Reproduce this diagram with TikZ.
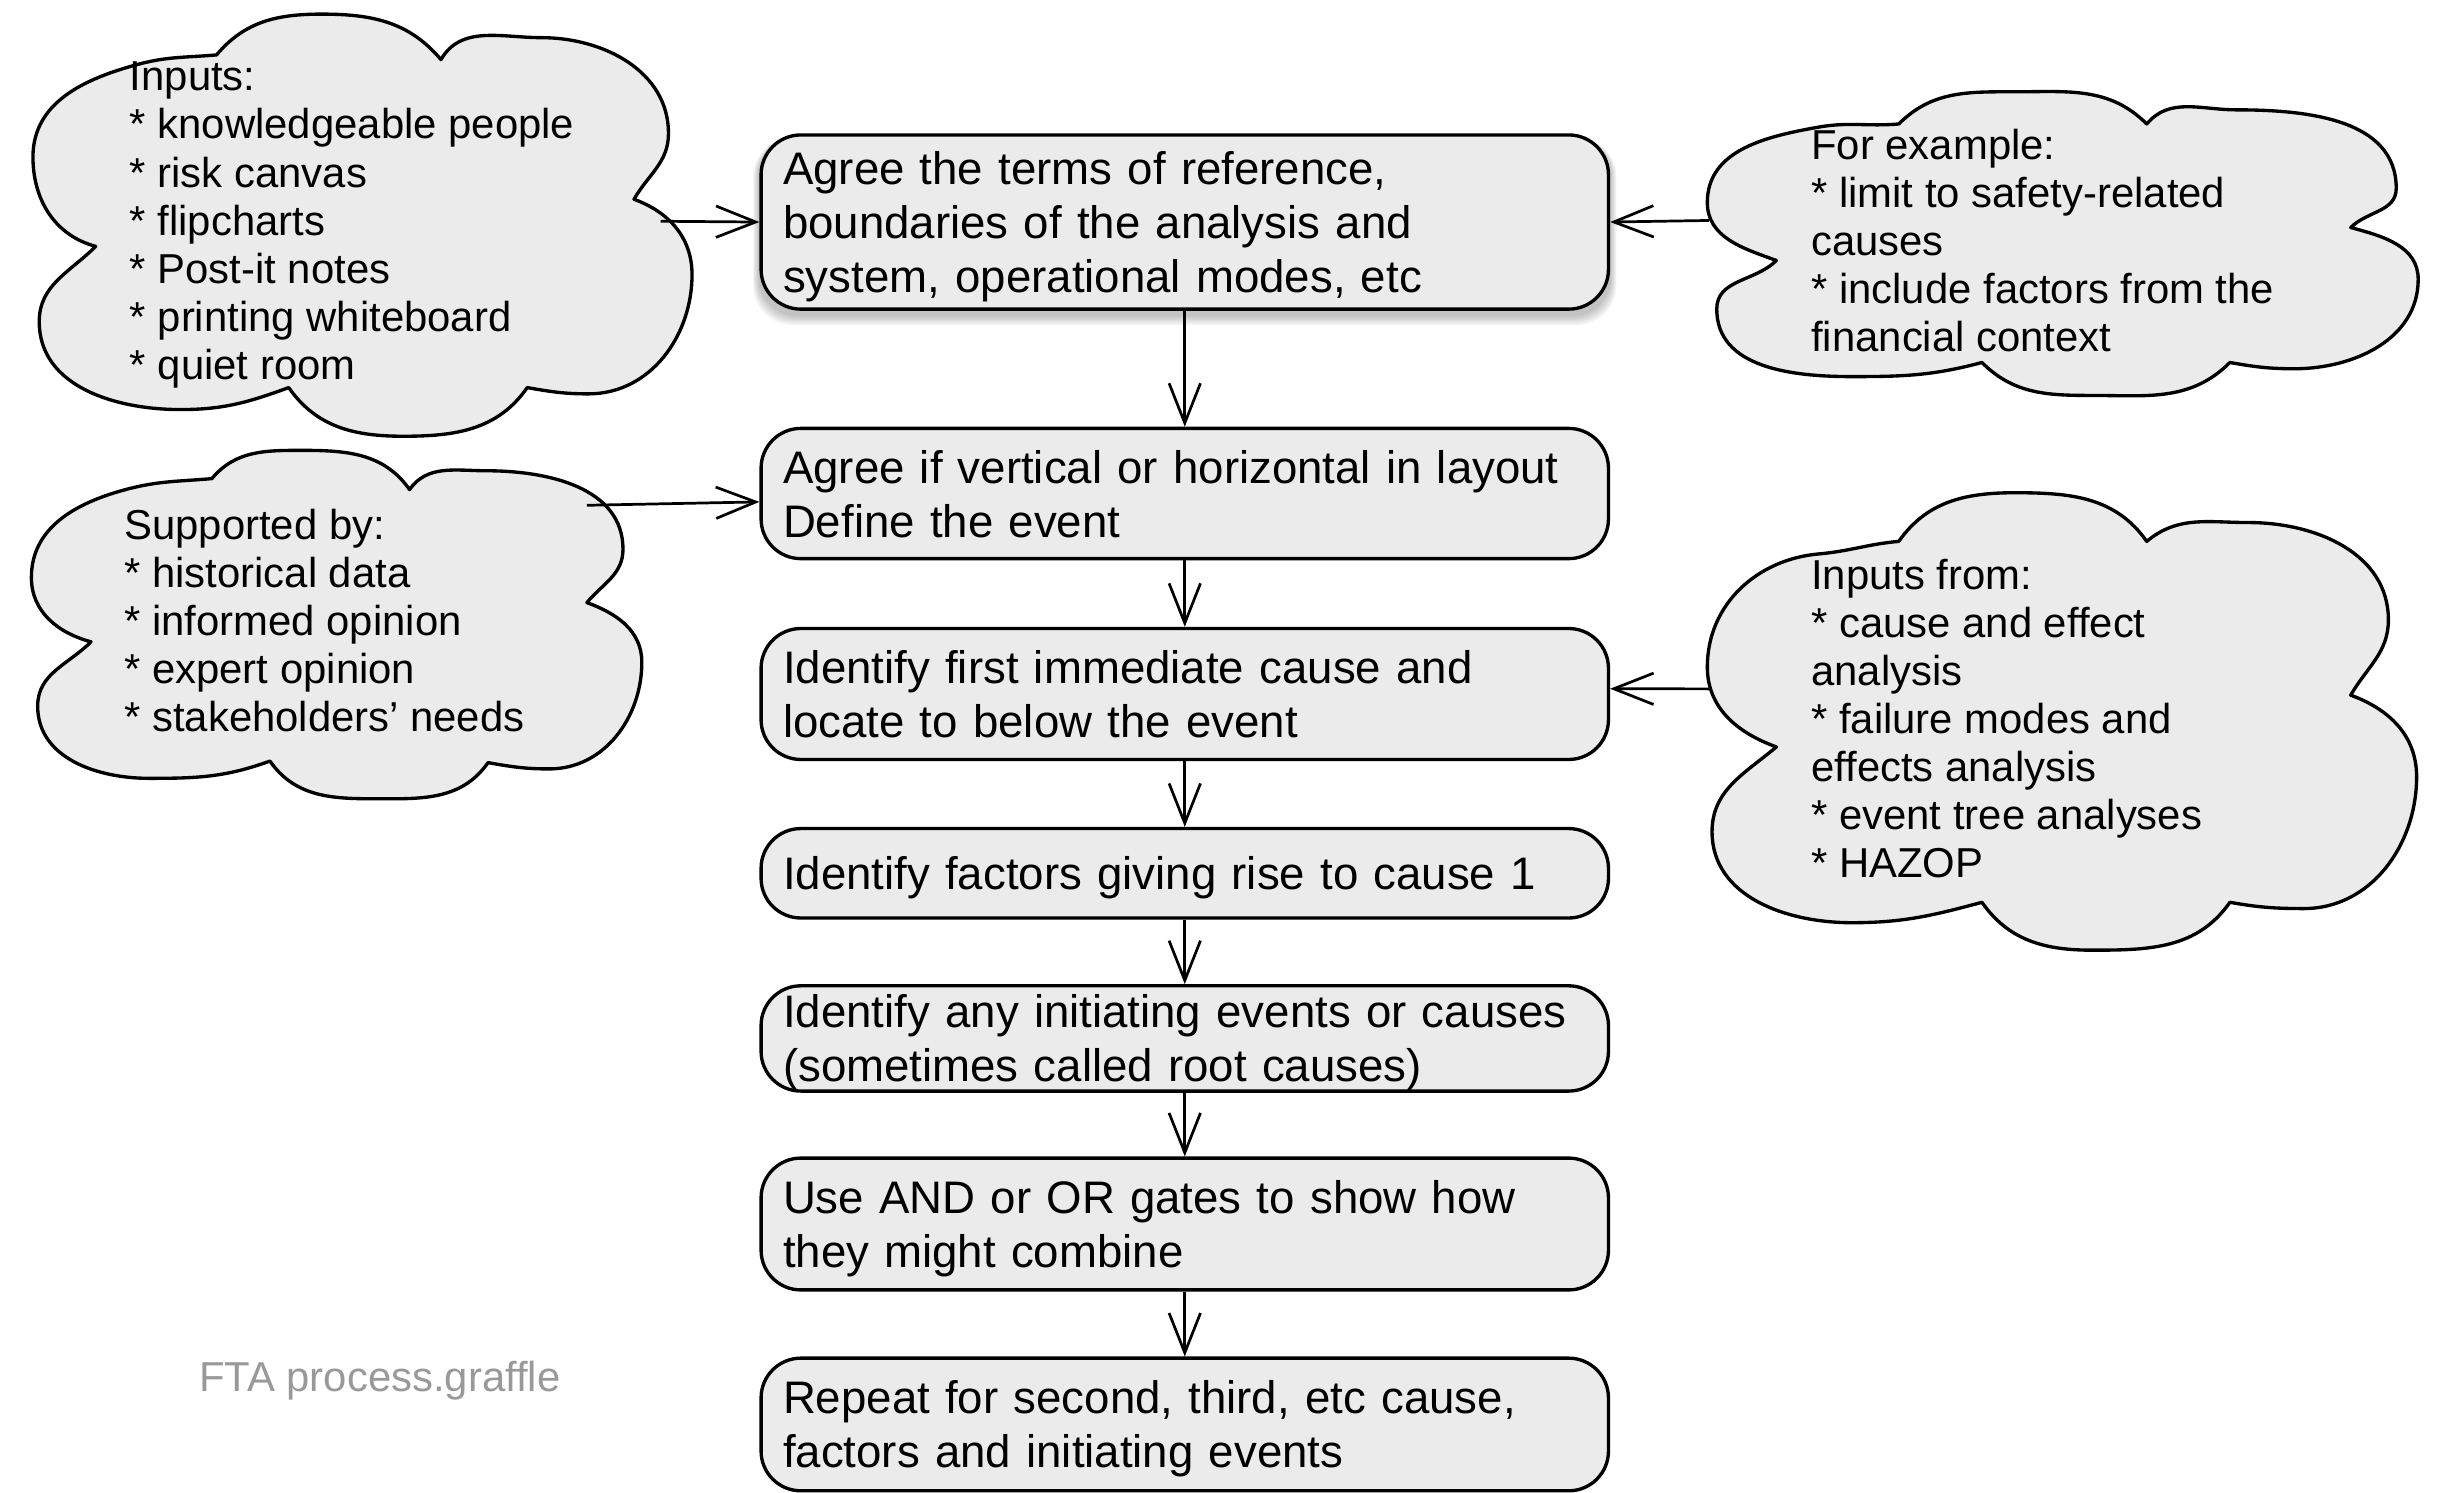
\documentclass[tikz,border=0pt]{standalone}
\usepackage{fontspec}
\setmainfont{Liberation Sans}
\usetikzlibrary{arrows.meta,backgrounds}
\definecolor{boxfill}{RGB}{235,235,235}
\definecolor{notegray}{RGB}{153,153,153}
\newcommand\boxstrut{\rule[-4pt]{0pt}{24pt}}
\newcommand\cloudstrut{\rule[-4pt]{0pt}{20pt}}
\begin{document}
\begin{tikzpicture}[x=0.75pt,y=0.75pt,
  stepbox/.style={draw, line width=1.6pt, fill=boxfill, rounded corners=19pt,
    minimum width=405pt, text width=384pt, inner xsep=10.5pt, inner ysep=0pt,
    align=left, font=\fontsize{21.8pt}{25.8pt}\selectfont,
    execute at begin node=\boxstrut, execute at end node=\boxstrut},
  cloudshape/.style={draw, line width=1.6pt, fill=boxfill, line join=round},
  cloudtext/.style={anchor=north west, inner sep=0pt, align=left,
    font=\fontsize{20pt}{23pt}\selectfont, execute at begin node=\cloudstrut},
  arr/.style={line width=1.3pt, -{Straight Barb[length=19pt,width=15pt]}}]

\useasboundingbox (0,0) rectangle (1560,-951.4);

% cloud 1 (top left)
\path[cloudshape] (61,-157)
  to[out=165, in=270] (21,-100) to[out=90, in=195] (88,-41) to[out=15, in=185] (138,-35)
  to[out=50, in=180] (205,-9) to[out=0, in=130] (281,-38)
  to[out=60, in=180] (345,-24) to[out=0, in=90] (426,-85) to[out=270, in=60] (404,-127)
  to[out=-20, in=90] (441,-175) to[out=270, in=0] (375,-251) to[out=180, in=-10] (336,-247)
  to[out=235, in=0] (257,-278) to[out=180, in=-55] (184,-247)
  to[out=200, in=0] (115,-261) to[out=180, in=270] (25,-205) to[out=90, in=225] (61,-157)
  -- cycle;

% cloud 2 (left middle)
\path[cloudshape] (58,-409)
  to[out=165, in=270] (20,-368) to[out=90, in=195] (80,-312) to[out=15, in=185] (135,-305)
  to[out=50, in=180] (193,-287) to[out=0, in=125] (261,-312)
  to[out=55, in=180] (310,-300) to[out=0, in=90] (397,-350) to[out=270, in=50] (374,-384)
  to[out=-20, in=90] (409,-422) to[out=270, in=0] (350,-490) to[out=180, in=-10] (311,-486)
  to[out=235, in=0] (236,-509) to[out=180, in=-55] (172,-485)
  to[out=200, in=0] (95,-496) to[out=180, in=270] (24,-450) to[out=90, in=225] (58,-409)
  -- cycle;

% cloud 3 (top right)
\path[cloudshape] (1132,-166)
  to[out=160, in=270] (1088,-129) to[out=90, in=190] (1159,-81) to[out=10, in=185] (1210,-79)
  to[out=45, in=180] (1284,-58.5) to[out=0, in=135] (1368,-79)
  to[out=50, in=180] (1425,-70) to[out=0, in=90] (1527,-120) to[out=270, in=45] (1498,-145)
  to[out=-15, in=90] (1541,-178) to[out=270, in=0] (1462,-235) to[out=180, in=-10] (1421,-231)
  to[out=225, in=0] (1333,-252) to[out=180, in=-45] (1263,-231)
  to[out=195, in=0] (1180,-240) to[out=180, in=270] (1094,-197) to[out=90, in=225] (1132,-166)
  -- cycle;

% cloud 4 (right middle)
\path[cloudshape] (1132,-476)
  to[out=160, in=270] (1088,-425) to[out=90, in=185] (1159,-353) to[out=5, in=185] (1210,-345)
  to[out=55, in=180] (1284,-314) to[out=0, in=125] (1368,-345)
  to[out=40, in=180] (1433,-333) to[out=0, in=90] (1522,-395) to[out=270, in=60] (1498,-443)
  to[out=-20, in=90] (1540,-495) to[out=270, in=0] (1468,-579) to[out=180, in=-10] (1421,-575)
  to[out=235, in=0] (1333,-605.5) to[out=180, in=-55] (1263,-575)
  to[out=195, in=0] (1180,-588) to[out=180, in=270] (1091,-530) to[out=90, in=220] (1132,-476)
  -- cycle;

% cloud texts
\node[cloudtext] (c1) at (82.5,-39.3) {Inputs:\\ * knowledgeable people\\ * risk canvas\\ * flipcharts\\ * Post-it notes\\ * printing whiteboard\\ * quiet room};
\node[cloudtext] (c2) at (79,-324) {Supported by:\\ * historical data\\ * informed opinion\\ * expert opinion\\ * stakeholders’ needs};
\node[cloudtext] (c3) at (1154,-81.8) {For example:\\ * limit to safety-related\\ causes\\ * include factors from the\\ financial context};
\node[cloudtext] (c4) at (1154,-355.8) {Inputs from:\\ * cause and effect\\ analysis\\ * failure modes and\\ effects analysis\\ * event tree analyses\\ * HAZOP};

% process boxes
\node[stepbox, minimum height=83.25pt] (b1) at (755,-141.5) {Agree the terms of reference,\\ boundaries of the analysis and\\ system, operational modes, etc};
\node[stepbox, minimum height=62.25pt] (b2) at (755,-314.5) {Agree if vertical or horizontal in layout\\ Define the event};
\node[stepbox, minimum height=62.6pt] (b3) at (755,-442.25) {Identify first immediate cause and\\ locate to below the event};
\node[stepbox, minimum height=42.75pt] (b4) at (755,-556.5) {Identify factors giving rise to cause 1};
\node[stepbox, minimum height=49.9pt] (b5) at (755,-661.75) {Identify any initiating events or causes\\ (sometimes called root causes)};
\node[stepbox, minimum height=63pt] (b6) at (755,-780) {Use AND or OR gates to show how\\ they might combine};
\node[stepbox, minimum height=63.4pt] (b7) at (755,-907.75) {Repeat for second, third, etc cause,\\ factors and initiating events};

% soft shadow under the first box
\begin{scope}[on background layer]
\foreach \i in {1,...,6} {
  \fill[black, opacity=0.045, rounded corners=19pt]
    ([xshift={-\i*0.5pt}, yshift={-2pt-\i*0.8pt}]b1.south west) rectangle
    ([xshift={\i*0.5pt}, yshift={-2pt}]b1.north east);
}
\end{scope}

\node[text=notegray, font=\fontsize{20pt}{23pt}\selectfont, inner sep=0pt] (fta) at (242,-880) {FTA process.graffle};

% connectors
\draw[arr] (b1) -- (b2);
\draw[arr] (b2) -- (b3);
\draw[arr] (b3) -- (b4);
\draw[arr] (b4) -- (b5);
\draw[arr] (b5) -- (b6);
\draw[arr] (b6) -- (b7);

\coordinate (c1o) at (421,-141);
\coordinate (c2o) at (374,-322);
\coordinate (c3o) at (1089,-140.5);
\coordinate (c4o) at (1089,-439);
\draw[arr] (c1o) -- (b1.west);
\draw[arr] (c2o) -- ([yshift=-4pt]b2.west);
\draw[arr] (c3o) -- (b1.east);
\draw[arr] (c4o) -- ([yshift=2.5pt]b3.east);
\end{tikzpicture}
\end{document}
